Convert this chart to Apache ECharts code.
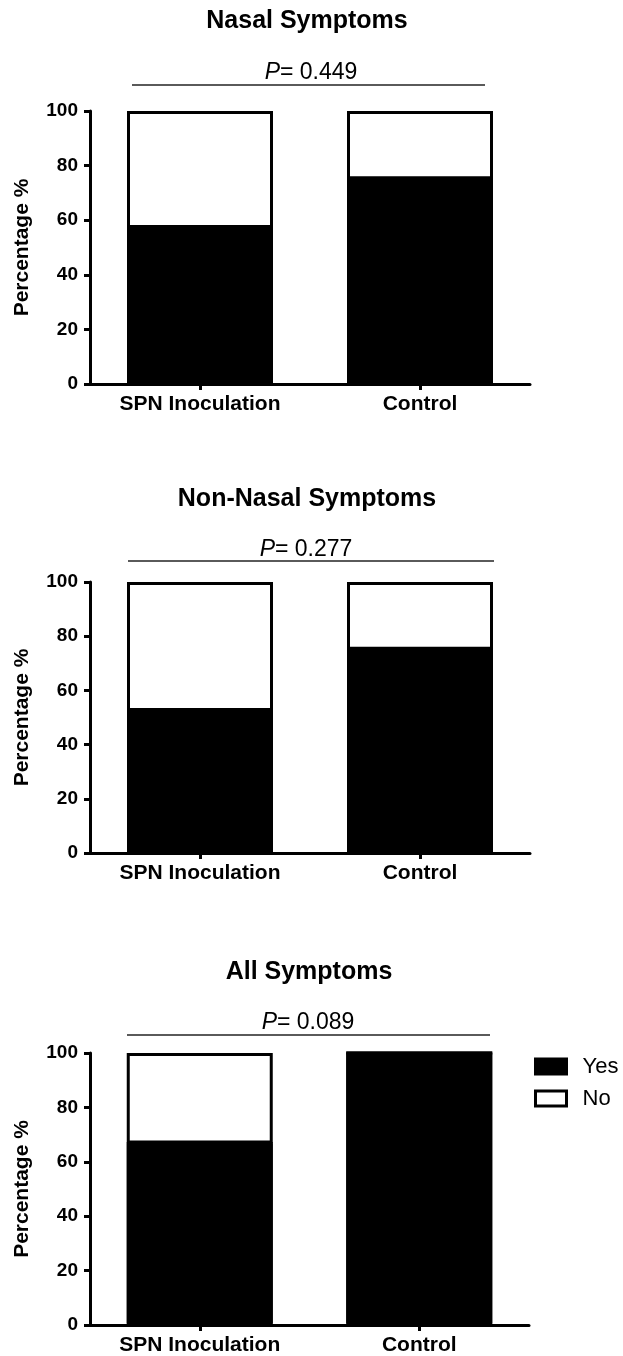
<!DOCTYPE html>
<html>
<head>
<meta charset="utf-8">
<script src="https://cdn.jsdelivr.net/npm/echarts@6/dist/echarts.min.js"></script>
<style>
html,body{margin:0;padding:0;background:#fff;}
#chart{width:623px;height:1356px;}
</style>
</head>
<body>
<div id="chart"></div>
<script>
const categories = ['SPN Inoculation', 'Control'];
const panelTitles = ['Nasal Symptoms', 'Non-Nasal Symptoms', 'All Symptoms'];
const pValues = ['0.449', '0.277', '0.089'];
const yesNasal = [57.1, 75];
const noNasal = [42.9, 25];
const yesNonNasal = [52.4, 75];
const noNonNasal = [47.6, 25];
const yesAll = [66.7, 100];
const noAll = [33.3, 0];
const yTicks = { min: 0, max: 100, interval: 20 };

const yesData = [yesNasal, yesNonNasal, yesAll];
const noData = [noNasal, noNonNasal, noAll];

const FONT = '"Liberation Sans", Arial, Helvetica, sans-serif';

const grids = [
  { left: 90, top: 111, width: 440, height: 273 },
  { left: 90, top: 582, width: 440, height: 271 },
  { left: 90, top: 1053, width: 439, height: 273 }
];
const titleCenters = [20, 498.5, 971.5];
const titleX = [307, 307, 309];
const pCenters = [71.5, 549, 1022];
const pX = [311, 306, 308];
const pLines = [
  { x1: 132, x2: 485, y: 85 },
  { x1: 128, x2: 494, y: 561 },
  { x1: 127, x2: 490, y: 1035 }
];

const chart = echarts.init(document.getElementById('chart'), null, { renderer: 'canvas' });

const titles = [];
const xAxes = [];
const yAxes = [];
const series = [];
const graphics = [];

for (let i = 0; i < 3; i++) {
  titles.push({
    text: panelTitles[i],
    left: titleX[i], textAlign: 'center',
    top: titleCenters[i] - 15 + 1,
    padding: 0,
    textStyle: { fontFamily: FONT, fontWeight: 'bold', fontSize: 25, color: '#000', lineHeight: 30 }
  });
  titles.push({
    text: '{i|P}= ' + pValues[i],
    left: pX[i], textAlign: 'center',
    top: pCenters[i] - 14 + 1,
    padding: 0,
    textStyle: {
      fontFamily: FONT, fontWeight: 'normal', fontSize: 23, color: '#000', lineHeight: 28,
      rich: { i: { fontFamily: FONT, fontStyle: 'italic', fontSize: 23, color: '#000', lineHeight: 28 } }
    }
  });
  xAxes.push({
    type: 'category', gridIndex: i, data: categories,
    axisLine: { show: true, lineStyle: { color: '#000', width: 3 } },
    axisTick: { show: true, alignWithLabel: true, length: 6, lineStyle: { color: '#000', width: 3 } },
    axisLabel: { fontFamily: FONT, fontWeight: 'bold', fontSize: 21, color: '#000', margin: 10 },
    splitLine: { show: false }
  });
  yAxes.push({
    type: 'value', gridIndex: i, min: yTicks.min, max: yTicks.max, interval: yTicks.interval,
    name: 'Percentage %', nameLocation: 'middle', nameGap: 57,
    nameTextStyle: { fontFamily: FONT, fontWeight: 'bold', fontSize: 21, color: '#000' },
    axisLine: { show: true, lineStyle: { color: '#000', width: 3 } },
    axisTick: { show: true, length: 6, lineStyle: { color: '#000', width: 3 } },
    axisLabel: { fontFamily: FONT, fontWeight: 'bold', fontSize: 19, color: '#000', margin: 12 },
    splitLine: { show: false }
  });
  series.push({
    name: 'Yes', type: 'bar', stack: 'p' + i, xAxisIndex: i, yAxisIndex: i,
    data: yesData[i], barWidth: 146, z: 3,
    itemStyle: {
      color: '#000', borderColor: '#000', borderWidth: 3,
      shadowColor: '#000', shadowBlur: 0, shadowOffsetX: 0, shadowOffsetY: -1.5
    },
    emphasis: { disabled: true }
  });
  series.push({
    name: 'No', type: 'bar', stack: 'p' + i, xAxisIndex: i, yAxisIndex: i,
    data: noData[i], barWidth: 146, z: 2,
    itemStyle: { color: '#fff', borderColor: '#000', borderWidth: 3 },
    emphasis: { disabled: true }
  });
  graphics.push({
    type: 'line', silent: true,
    shape: { x1: pLines[i].x1, y1: pLines[i].y, x2: pLines[i].x2, y2: pLines[i].y },
    style: { stroke: '#5a5a5a', lineWidth: 2 }
  });
}

chart.setOption({
  backgroundColor: '#fff',
  animation: false,
  title: titles,
  grid: grids.map(g => Object.assign({ containLabel: false }, g)),
  xAxis: xAxes,
  yAxis: yAxes,
  series: series,
  graphic: graphics,
  legend: {
    orient: 'vertical', left: 534, top: 1055.5, padding: 0,
    itemWidth: 31, itemHeight: 15, itemGap: 10,
    icon: 'rect',
    data: [
      { name: 'Yes', itemStyle: { color: '#000', borderColor: '#000', borderWidth: 3, shadowBlur: 0, shadowOffsetY: 0, shadowColor: 'transparent' } },
      { name: 'No', itemStyle: { color: '#fff', borderColor: '#000', borderWidth: 3 } }
    ],
    textStyle: { fontFamily: FONT, fontSize: 22, lineHeight: 15, height: 15, color: '#000', padding: [0, 0, 0, 11] }
  }
});
</script>
</body>
</html>
